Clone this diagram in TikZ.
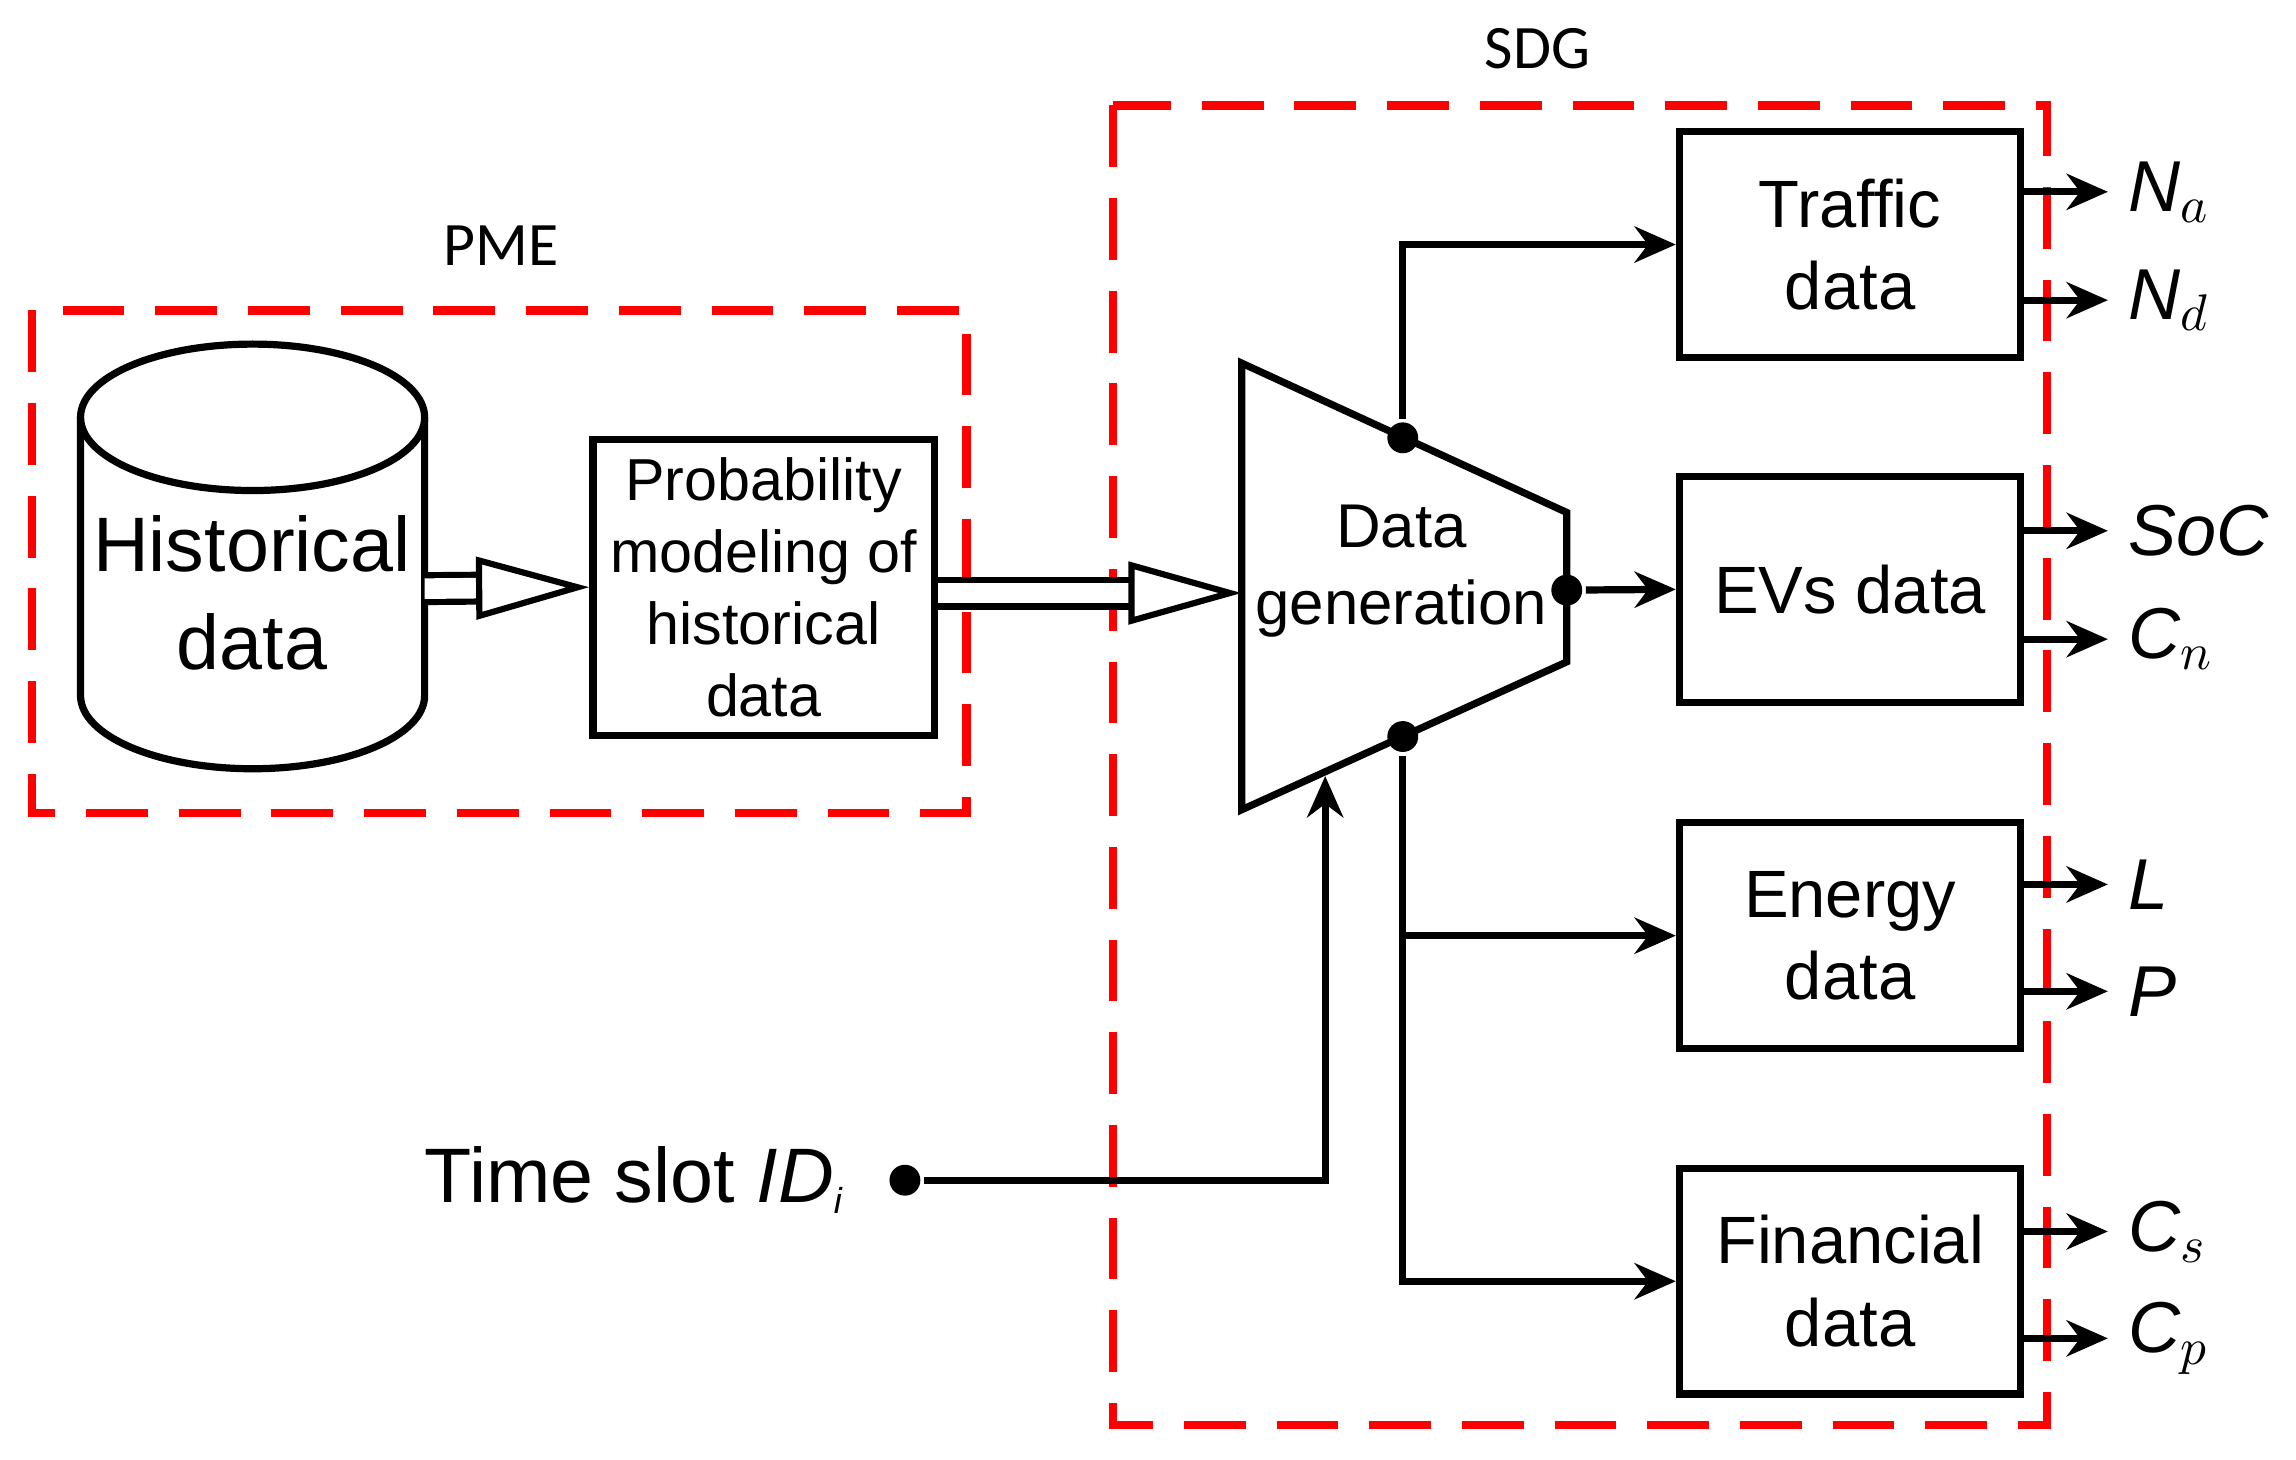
\documentclass[tikz,border=0pt]{standalone}
\usepackage{fontspec}
\setmainfont{Liberation Sans}
\newfontfamily\calib{Carlito}
\usetikzlibrary{arrows.meta,positioning}

\begin{document}
\begin{tikzpicture}[x=0.01cm,y=-0.01cm,line width=1.4pt,
    box/.style={draw,minimum width=2.33cm,minimum height=1.54cm,align=center,font=\fontsize{13}{16}\selectfont},
    area/.style={draw=red,dash pattern=on 12pt off 6pt,line width=1.6pt},
    outarr/.style={-{Stealth[length=8pt,width=7pt]}},
    hollow/.style={double,double distance=4pt,line width=1.2pt,-{Triangle[open,length=22pt,width=12pt]}},
    olab/.style={right,font=\fontsize{14}{16}\selectfont\itshape},
    dot/.style={circle,fill,inner sep=0pt,minimum size=6pt}]
\useasboundingbox (0,0) rectangle (1568,997);

% dashed regions
\draw[area] (22,212) rectangle (660,555);
\draw[area] (760,72) rectangle (1398,973);
\node[font=\calib\fontsize{12}{14}\selectfont] (pme) at (342,168) {PME};
\node[font=\calib\fontsize{12}{14}\selectfont] (sdg) at (1050,33) {SDG};

% database
\draw (55,285) -- (55,475) arc[start angle=180,end angle=360,x radius=117.5,y radius=-50] -- (290,285);
\draw (172.5,285) ellipse[x radius=117.5,y radius=50];
\node[align=center,font=\fontsize{15}{19}\selectfont] (hist) at (172,405) {Historical\\data};
\coordinate (histR) at (290,402);

\node[box,minimum height=2.02cm,font=\fontsize{11.5}{14}\selectfont] (prob) at (521.5,401) {Probability\\modeling of\\historical\\data};

% data generation block
\draw (848,248) -- (1070,350) -- (1070,452) -- (848,553) -- cycle;
\node[align=center,font=\fontsize{12}{15}\selectfont] (gen) at (957,390) {Data\\generation};
\node[dot] (dtop) at (958,299) {};
\node[dot] (dmid) at (1070,403) {};
\node[dot] (dbot) at (958,503) {};
\coordinate (genL) at (848,405);
\coordinate (genB) at (905,530);

\node[box] (traffic) at (1263.5,167) {Traffic\\data};
\node[box] (evs) at (1263.5,402.5) {EVs data};
\node[box] (energy) at (1263.5,639) {Energy\\data};
\node[box] (fin) at (1263.5,875) {Financial\\data};

\draw[hollow] (histR) -- (prob.west);
\draw[hollow] (prob.east |- genL) -- (genL);

\draw[outarr] (dtop) |- (traffic.west);
\draw[outarr] (dmid) -- (evs.west);
\draw[outarr] (dbot) |- (fin.west);
\draw[outarr] (dbot |- energy.west) -- (energy.west);

\node[dot] (ts) at (618,806) {};
\node[left=4pt of ts,font=\fontsize{15}{18}\selectfont] (tslab) {Time slot \textit{ID}$_{\textit{\scriptsize i}}$};
\draw[outarr] (ts) -| (genB);

% outputs
\foreach \b/\u/\l/\ua/\la in {traffic/N$_a$/N$_d$/36/38, evs/SoC/C$_n$/40/34,
    energy/L/P/35/38, fin/C$_s$/C$_p$/34/39}{
  \coordinate (\b-u) at ([yshift=\ua*0.01cm]\b.east);
  \coordinate (\b-l) at ([yshift=-\la*0.01cm]\b.east);
  \draw[outarr] (\b-u) -- ++(57,0) node[olab] {\u};
  \draw[outarr] (\b-l) -- ++(57,0) node[olab] {\l};
}
\end{tikzpicture}
\end{document}
